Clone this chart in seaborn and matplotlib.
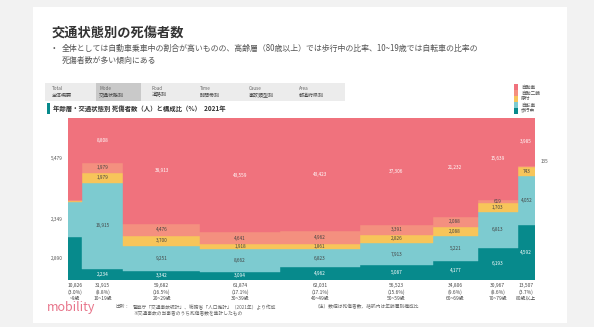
import numpy as np
import pandas as pd
import matplotlib
matplotlib.use("Agg")
import matplotlib.pyplot as plt
import seaborn as sns
from matplotlib.patches import Rectangle

# ---------------- data ----------------
ages = ["~9歳", "10~19歳", "20~29歳", "30~39歳", "40~49歳",
        "50~59歳", "60~69歳", "70~79歳", "80歳以上"]
modes = ["自動車乗車中", "自動二輪車乗車中", "原付乗車中", "自転車乗用中", "歩行中"]
legend_labels = ["自動車", "自動二輪", "原付", "自転車", "歩行中"]
auto = [5479, 8808, 38913, 43559, 43423, 37306, 21232, 15639, 3985]
moto = [43, 1979, 4476, 4641, 4962, 3391, 2088, 619, 135]
moped = [65, 1979, 3700, 1918, 1861, 2826, 2088, 1703, 743]
bike = [2349, 16915, 9251, 8662, 6823, 7913, 5221, 6813, 4052]
walk = [2890, 2234, 3342, 3094, 4962, 5087, 4177, 6193, 4592]
tabs_en = ["Total", "Mode", "Road", "Time", "Cause", "Area"]
tabs_jp = ["全体概要", "交通状態別", "道路別", "時間帯別", "事故類型別", "都道府県別"]
colors = ["#F0727D", "#F4907F", "#F7C55A", "#7DCBD0", "#078A8C"]

series = [auto, moto, moped, bike, walk]

sns.set_theme(style="white")
plt.rcParams['font.family'] = ['Noto Sans CJK JP', 'DejaVu Sans']

rows = []
for i, a in enumerate(ages):
    for m, vals in zip(modes, series):
        rows.append({"age": a, "mode": m, "count": vals[i]})
df = pd.DataFrame(rows)
totals = df.groupby("age", sort=False)["count"].sum().reindex(ages).to_numpy()
edges = np.concatenate([[0], np.cumsum(totals)])
mids = (edges[:-1] + edges[1:]) / 2
df["x"] = df["age"].map(dict(zip(ages, mids)))
grand = totals.sum()

W, H = 594, 327
fig = plt.figure(figsize=(W / 100, H / 100), dpi=100)
fig.patch.set_facecolor("#f2f2f2")
fig.patches.append(Rectangle((33 / W, 1 - 323 / H), 534 / W, 316 / H,
                             transform=fig.transFigure, facecolor="white",
                             edgecolor="none", zorder=-5))

def fx(px):
    return px / W

def fy(py):
    return 1 - py / H

ax = fig.add_axes([fx(68), fy(280), (535 - 68) / W, (280 - 118) / H])
ax.set_zorder(2)
sns.histplot(data=df, x="x", weights="count", hue="mode", hue_order=modes,
             multiple="fill", bins=[float(e) for e in edges],
             palette=dict(zip(modes, colors)),
             alpha=1, linewidth=0, legend=False, ax=ax)
for p in ax.patches:
    p.set_edgecolor(p.get_facecolor())
    p.set_linewidth(0.3)

ax.set_xlim(0, edges[-1])
ax.set_ylim(0, 1)
ax.set_yticks([])
ax.set_ylabel("")
ax.set_xlabel("")
for s in ax.spines.values():
    s.set_visible(False)
ax.set_xticks(mids)
ax.set_xticklabels([f"{t:,}\n({t / grand * 100:.1f}%)\n{a}" for t, a in zip(totals, ages)],
                   fontsize=3.5, color="#444", linespacing=1.35)
ax.tick_params(axis="x", length=0, pad=2)

# segment labels (stack bottom: walk, bike, moped, moto, auto)
order_bottom = [4, 3, 2, 1, 0]
for i in range(len(ages)):
    base = 0.0
    for k in order_bottom:
        v = series[k][i]
        share = v / totals[i]
        yc = base + share / 2
        base += share
        txtc = "white" if k in (0, 4) else "#444"
        lab = f"{v:,}"
        if i == 0:
            if share > 0.05:
                ax.annotate(lab, (edges[0], yc), xytext=(-4, 0), textcoords="offset points",
                            ha="right", va="center", fontsize=3.4, color="#555")
        elif i == len(ages) - 1 and share < 0.03:
            ax.annotate(lab, (edges[-1], yc + 0.03), xytext=(4, 0), textcoords="offset points",
                        ha="left", va="center", fontsize=3.4, color="#555")
        elif share >= 0.015:
            ax.text(mids[i], yc, lab, ha="center", va="center", fontsize=3.4, color=txtc)

# ---------------- slide texts ----------------
fig.text(fx(52), fy(33), "交通状態別の死傷者数", fontsize=9.5, fontweight="bold",
         color="#333", va="center")
fig.text(fx(53), fy(48), "•", fontsize=5.5, color="#555", va="center")
fig.text(fx(62), fy(48), "全体としては自動車乗車中の割合が高いものの、高齢層（80歳以上）では歩行中の比率、10~19歳では自転車の比率の",
         fontsize=5.7, color="#555", va="center")
fig.text(fx(62), fy(60), "死傷者数が多い傾向にある", fontsize=5.7, color="#555", va="center")

# tabs
fig.patches.append(Rectangle((fx(45), fy(101)), (345 - 45) / W, 18 / H,
                             transform=fig.transFigure, facecolor="#ececec",
                             edgecolor="none", zorder=1))
fig.patches.append(Rectangle((fx(96), fy(101)), (141 - 96) / W, 18 / H,
                             transform=fig.transFigure, facecolor="#c9c9c9",
                             edgecolor="none", zorder=1))
tab_x = [52, 99, 152, 200, 249, 299]
for x, en, jp in zip(tab_x, tabs_en, tabs_jp):
    fig.text(fx(x), fy(88), en, fontsize=3.3, color="#666", va="center")
    fig.text(fx(x), fy(95), jp, fontsize=3.6, color="#444", va="center")

# header
fig.patches.append(Rectangle((fx(47), fy(114)), 3 / W, 11 / H,
                             transform=fig.transFigure, facecolor="#078A8C",
                             edgecolor="none", zorder=1))
fig.text(fx(53), fy(108), "年齢層・交通状態別 死傷者数（人）と構成比（%）  2021年",
         fontsize=4.6, fontweight="bold", color="#333", va="center")

# legend
ly = 84
for c, lab in zip(colors, legend_labels):
    fig.patches.append(Rectangle((fx(514), fy(ly + 6)), 4 / W, 6 / H,
                                 transform=fig.transFigure, facecolor=c,
                                 edgecolor="none", zorder=1))
    fig.text(fx(521), fy(ly + 3), lab, fontsize=3.4, color="#555", va="center")
    ly += 6

# footer
fig.text(fx(47), fy(308), "mobility", fontsize=9, color="#E8748A", va="center",
         fontstyle="italic")
fig.text(fx(115), fy(307), "出所：", fontsize=3.4, color="#666", va="center")
fig.text(fx(133), fy(307), "警察庁「交通事故統計」、総務省「人口推計」（2021年）より作成",
         fontsize=3.4, color="#666", va="center")
fig.text(fx(133), fy(313), "※交通事故の当事者のうち死傷者数を集計したもの",
         fontsize=3.4, color="#666", va="center")
fig.text(fx(315), fy(307), "（注）数値は死傷者数、括弧内は年齢層別構成比",
         fontsize=3.4, color="#666", va="center")

fig.savefig("out.png", dpi=100, facecolor=fig.get_facecolor())
